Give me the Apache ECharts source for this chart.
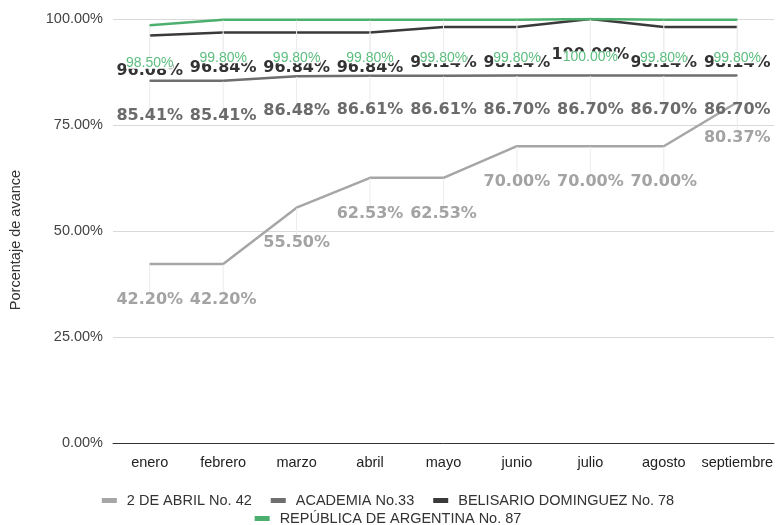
<!DOCTYPE html>
<html>
<head>
<meta charset="utf-8">
<script src="https://cdn.jsdelivr.net/npm/echarts@6/dist/echarts.min.js"></script>
<style>
  html, body { margin: 0; padding: 0; background: #fff; }
  #chart { width: 776px; height: 525px; }
</style>
</head>
<body>
<div id="chart"></div>
<script>
// Monthly progress per school (percent)
const months = ['enero', 'febrero', 'marzo', 'abril', 'mayo', 'junio', 'julio', 'agosto', 'septiembre'];
const yTicks = [0, 25, 50, 75, 100];

const dosDeAbril = [42.20, 42.20, 55.50, 62.53, 62.53, 70.00, 70.00, 70.00, 80.37];
const academia = [85.41, 85.41, 86.48, 86.61, 86.61, 86.70, 86.70, 86.70, 86.70];
const belisario = [96.08, 96.84, 96.84, 96.84, 98.14, 98.14, 100.00, 98.14, 98.14];
const argentina = [98.50, 99.80, 99.80, 99.80, 99.80, 99.80, 100.00, 99.80, 99.80];

const seriesNames = [
  '2 DE ABRIL No. 42',
  'ACADEMIA No.33',
  'BELISARIO DOMINGUEZ No. 78',
  'REPÚBLICA DE ARGENTINA No. 87'
];

const fmtPct = v => v.toFixed(2) + '%';
const axisFont = 'Liberation Sans';
const axisFontSize = 14.5;

function lineSeries(name, data, color, labelColor, bold, fontSize, distance, z, boxed) {
  return {
    name: name,
    type: 'line',
    z: z,
    data: data,
    symbol: 'circle',
    symbolSize: 1,
    showSymbol: true,
    itemStyle: { color: color },
    lineStyle: { color: color, width: 2.5 },
    emphasis: { disabled: true },
    label: {
      show: true,
      position: 'bottom',
      distance: distance,
      color: labelColor,
      fontFamily: bold ? 'DejaVu Sans' : 'Liberation Sans',
      fontWeight: bold ? 'bold' : 'normal',
      fontSize: fontSize,
      lineHeight: boxed ? fontSize - 3 : fontSize,
      backgroundColor: boxed ? '#ffffff' : 'transparent',
      padding: 0,
      formatter: p => fmtPct(p.value)
    },
    labelLine: {
      show: true,
      lineStyle: { color: '#ececec', width: 1 }
    }
  };
}

const chart = echarts.init(document.getElementById('chart'), null, { renderer: 'canvas' });

const legendBase = {
  left: 'center',
  padding: 0,
  icon: 'rect',
  itemWidth: 15,
  itemHeight: 5,
  itemGap: 19,
  textStyle: {
    color: '#333',
    fontSize: axisFontSize,
    fontFamily: axisFont,
    padding: [0, 0, 0, 5]
  }
};

chart.setOption({
  backgroundColor: '#ffffff',
  animation: false,
  textStyle: { fontFamily: 'Liberation Sans, Arial, sans-serif' },
  grid: { left: 113, right: 0, top: 19, bottom: 82 },
  legend: [
    Object.assign({ data: seriesNames.slice(0, 3), top: 493 }, legendBase),
    Object.assign({ data: seriesNames.slice(3), top: 511 }, legendBase)
  ],
  xAxis: {
    type: 'category',
    data: months,
    boundaryGap: true,
    axisLine: { lineStyle: { color: '#333', width: 1 } },
    axisTick: { show: false },
    axisLabel: { color: '#222', fontSize: axisFontSize, margin: 12, fontFamily: axisFont, interval: 0 },
    splitLine: { show: false }
  },
  yAxis: {
    type: 'value',
    min: yTicks[0],
    max: yTicks[yTicks.length - 1],
    interval: 25,
    name: 'Porcentaje de avance',
    nameLocation: 'middle',
    nameGap: 90,
    nameRotate: 90,
    nameTextStyle: { color: '#333', fontSize: axisFontSize, fontFamily: axisFont, padding: [0, 18, 0, 0] },
    axisLine: { show: false },
    axisTick: { show: false },
    axisLabel: {
      color: '#444',
      fontSize: axisFontSize,
      margin: 10,
      fontFamily: axisFont,
      formatter: v => v.toFixed(2) + '%'
    },
    splitLine: { lineStyle: { color: '#d9d9d9', width: 1 } }
  },
  series: [
    lineSeries(seriesNames[0], dosDeAbril, '#a6a6a6', '#a3a3a3', true, 16, 27, 2, false),
    lineSeries(seriesNames[1], academia, '#6e6e6e', '#6b6b6b', true, 16, 26, 3, false),
    lineSeries(seriesNames[2], belisario, '#3a3a3a', '#333333', true, 16, 27, 4, false),
    lineSeries(seriesNames[3], argentina, '#4caf6e', '#5cbd7d', false, 14, 32, 5, true)
  ]
});
</script>
</body>
</html>
